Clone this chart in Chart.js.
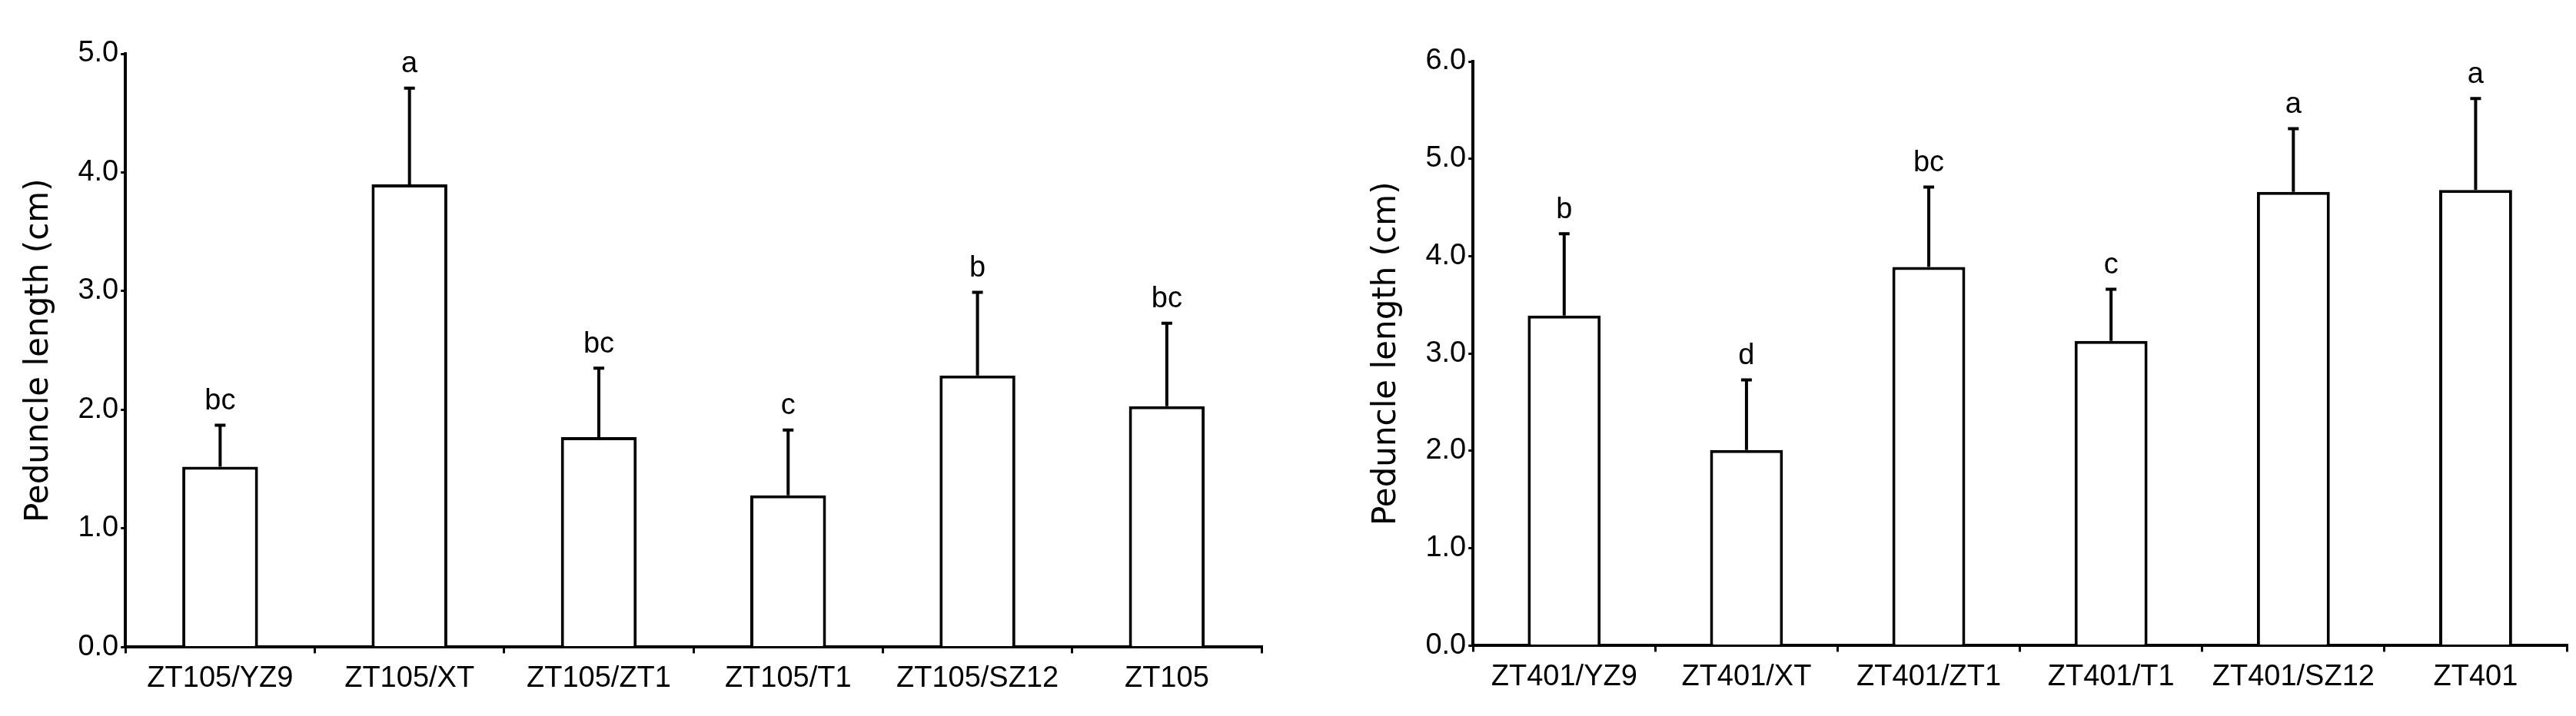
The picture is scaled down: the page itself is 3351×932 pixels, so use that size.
<!DOCTYPE html>
<html>
<head>
<meta charset="utf-8">
<script src="https://cdn.jsdelivr.net/npm/chart.js@4"></script>
<style>
  body { margin: 0; background: #fff; }
  .wrap { position: absolute; top: 0; width: 1675px; height: 932px; }
  #w1 { left: 0; }
  #w2 { left: 1675px; width: 1676px; }
</style>
</head>
<body>
<div class="wrap" id="w1"><canvas id="c1"></canvas></div>
<div class="wrap" id="w2"><canvas id="c2"></canvas></div>
<script>
// data
const labels105 = ['ZT105/YZ9', 'ZT105/XT', 'ZT105/ZT1', 'ZT105/T1', 'ZT105/SZ12', 'ZT105'];
const means105 = [1.52, 3.90, 1.77, 1.28, 2.29, 2.03];
const sd105 = [0.35, 0.81, 0.58, 0.55, 0.70, 0.70];
const letters105 = ['bc', 'a', 'bc', 'c', 'b', 'bc'];

const labels401 = ['ZT401/YZ9', 'ZT401/XT', 'ZT401/ZT1', 'ZT401/T1', 'ZT401/SZ12', 'ZT401'];
const means401 = [3.39, 2.01, 3.89, 3.13, 4.66, 4.68];
const sd401 = [0.84, 0.72, 0.82, 0.53, 0.65, 0.94];
const letters401 = ['b', 'd', 'bc', 'c', 'a', 'a'];

const fontFam = '"Liberation Sans Narrow", "Liberation Sans", Arial, sans-serif';

const errorBars = {
  id: 'errorBars',
  afterDatasetsDraw(chart, args, opts) {
    const ctx = chart.ctx;
    const y = chart.scales.y;
    const meta = chart.getDatasetMeta(0);
    ctx.save();
    ctx.strokeStyle = '#000';
    ctx.lineWidth = 4;
    meta.data.forEach((bar, i) => {
      const top = y.getPixelForValue(opts.means[i] + opts.sd[i]);
      ctx.beginPath();
      ctx.moveTo(bar.x, bar.y);
      ctx.lineTo(bar.x, top);
      ctx.moveTo(bar.x - 7, top);
      ctx.lineTo(bar.x + 7, top);
      ctx.stroke();
      ctx.fillStyle = '#000';
      ctx.font = '38px ' + fontFam;
      ctx.textAlign = 'center';
      ctx.textBaseline = 'bottom';
      ctx.fillText(opts.letters[i], bar.x, top - 12);
    });
    ctx.restore();
  }
};

function makeChart(id, labels, means, sd, letters, ymax, pad) {
  return new Chart(document.getElementById(id), {
    type: 'bar',
    data: {
      labels: labels,
      datasets: [{
        data: means,
        backgroundColor: '#fff',
        borderColor: '#000',
        borderWidth: 4,
        borderSkipped: 'bottom',
        categoryPercentage: 1,
        barPercentage: 0.4,
      }],
    },
    options: {
      responsive: true,
      maintainAspectRatio: false,
      animation: false,
      layout: { padding: pad },
      plugins: {
        legend: { display: false },
        tooltip: { enabled: false },
        errorBars: { means: means, sd: sd, letters: letters },
      },
      scales: {
        x: {
          offset: true,
          grid: { offset: true, drawOnChartArea: false, color: '#000', lineWidth: 3, tickLength: 8 },
          border: { color: '#000', width: 4 },
          ticks: { color: '#000', font: { size: 38, family: fontFam }, maxRotation: 0, padding: 10 },
        },
        y: {
          min: 0,
          max: ymax,
          grid: { drawOnChartArea: false, color: '#000', lineWidth: 3, tickLength: 6 },
          border: { color: '#000', width: 4 },
          ticks: {
            stepSize: 1,
            color: '#000',
            font: { size: 38, family: fontFam },
            callback: v => v.toFixed(1),
          },
          title: {
            display: true,
            text: 'Peduncle length (cm)',
            color: '#000',
            font: { size: 42, family: '"DejaVu Sans", sans-serif' },
            padding: { bottom: 22 },
          },
        },
      },
    },
    plugins: [errorBars],
  });
}

makeChart('c1', labels105, means105, sd105, letters105, 5, { left: 22, top: 70, right: 34, bottom: 16 });
makeChart('c2', labels401, means401, sd401, letters401, 6, { left: 100, top: 80, right: 12, bottom: 18 });
</script>
</body>
</html>
